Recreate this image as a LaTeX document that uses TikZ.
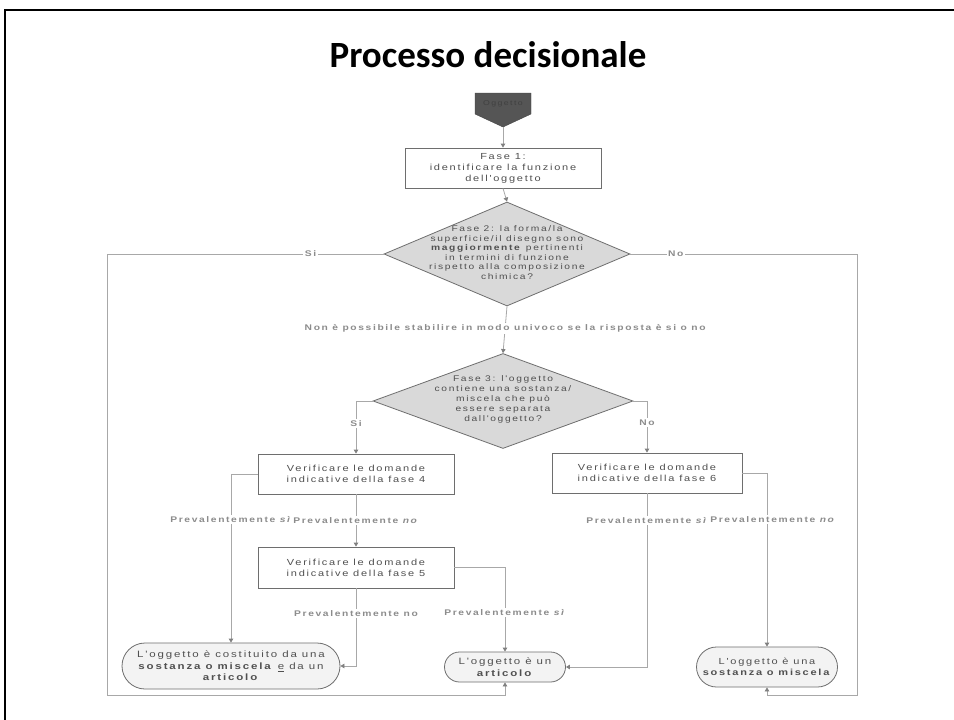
\documentclass[tikz,border=0pt]{standalone}
\usepackage{fontspec}
\usepackage{graphicx}
\setmainfont{Liberation Sans}
\newfontfamily\df[FakeStretch=1.25,LetterSpace=20]{Liberation Sans}
\newfontfamily\ttlfont{Carlito}
\usetikzlibrary{shapes.geometric,shapes.misc,arrows.meta}
\definecolor{conn}{HTML}{A8A8A8}
\definecolor{bordergray}{HTML}{6E6E6E}
\definecolor{txtgray}{HTML}{505050}
\definecolor{lblgray}{HTML}{8C8C8C}
\definecolor{diafill}{HTML}{D9D9D9}
\definecolor{termfill}{HTML}{F3F3F3}
\definecolor{ogfill}{HTML}{555555}
\tikzset{
  boxnode/.style={draw=bordergray, line width=0.8pt, fill=white, rectangle, minimum height=40pt, inner sep=0pt,
    align=center, text=txtgray, font=\df\fontsize{8.8}{11}\selectfont},
  dianode/.style={draw=bordergray, line width=0.8pt, fill=diafill, diamond, inner sep=0pt},
  diatext/.style={align=center, text=txtgray, inner sep=0pt, font=\df\fontsize{8.2}{9.5}\selectfont},
  termnode/.style={draw=bordergray, line width=0.8pt, fill=termfill, rounded rectangle, inner sep=0pt,
    align=center, text=txtgray, font=\df\fontsize{9.2}{11.5}\selectfont},
  lbl/.style={fill=white, inner sep=1.5pt, text=lblgray, font=\df\bfseries\fontsize{8.2}{10}\selectfont},
  conn/.style={draw=conn, line width=0.8pt},
  arr/.style={conn, -{Triangle[width=4.5pt,length=4pt,color=gray,fill=gray]}}
}
\begin{document}
\begin{tikzpicture}[x=1pt,y=-1pt]
\useasboundingbox (0,0) rectangle (954,720);
\fill[white] (0,0) rectangle (954,720);
% slide frame
\draw[line width=2.6pt, black] (5,740) -- (5,10) -- (970,10);
% title
\node[anchor=base, inner sep=0pt] (title) at (488,67)
  {\ttlfont\bfseries\fontsize{37}{40}\selectfont Processo decisionale};

% start symbol
\fill[ogfill, draw=ogfill!80!black] (475,93) -- (531,93) -- (531,114) -- (503,127) -- (475,114) -- cycle;
\node[inner sep=0pt, text=black!75, font=\df\fontsize{7}{8}\selectfont] (og) at (503,104) {Oggetto};
\coordinate (ogtip) at (503,127);

% boxes
\node[boxnode, minimum width=196pt] (f1) at (503,168) {Fase 1:\\identificare la funzione\\dell'oggetto};
\node[dianode, minimum width=246pt, minimum height=104pt] (d2) at (507,254) {};
\node[diatext] (d2t) at (507,252.5) {Fase 2: la forma/la\\superficie/il disegno sono\\\textbf{maggiormente} pertinenti\\in termini di funzione\\rispetto alla composizione\\chimica?};
\node[dianode, minimum width=260pt, minimum height=95pt] (d3) at (503,401) {};
\node[diatext, font=\df\fontsize{8.2}{10}\selectfont] (d3t) at (503,399) {Fase 3: l'oggetto\\contiene una sostanza/\\miscela che può\\essere separata\\dall'oggetto?};
\node[boxnode, minimum width=196pt] (b4) at (356,474) {Verificare le domande\\indicative della fase 4};
\node[boxnode, minimum width=190pt] (b6) at (647,473) {Verificare le domande\\indicative della fase 6};
\node[boxnode, minimum width=196pt, minimum height=41pt] (b5) at (356,567.5) {Verificare le domande\\indicative della fase 5};
\node[termnode, minimum width=218pt, minimum height=46pt] (e1) at (231,666)
  {L'oggetto è costituito da una\\\textbf{sostanza o miscela} \underline{e} da un\\\textbf{articolo}};
\node[termnode, minimum width=121pt, minimum height=30pt] (art) at (505,667)
  {L'oggetto è un\\\textbf{articolo}};
\node[termnode, minimum width=141pt, minimum height=40pt, font=\df\fontsize{8.8}{11.5}\selectfont] (sos) at (767,667)
  {L'oggetto è una\\\textbf{sostanza o miscela}};

% connectors
\draw[arr] (ogtip) -- (f1.north);
\draw[arr] (f1.south) -- (d2.north);
\draw[arr] (d2.south) -- node[lbl, pos=0.47]{Non è possibile stabilire in modo univoco se la risposta è si o no} (d3.north);
\draw[arr] (d2.west) -- node[lbl, pos=0.264]{Si} (107,254) -- (107,695) -- (art.south |- 0,695) -- (art.south);
\draw[arr] (d2.east) -- node[lbl, pos=0.2]{No} (857,254) -- (857,695) -- (sos.south |- 0,695) -- (sos.south);
\draw[arr] (d3.west) -- (b4.north |- d3.west) -- node[lbl, pos=0.42]{Si} (b4.north);
\draw[arr] (d3.east) -- (b6.north |- d3.east) -- node[lbl, pos=0.42]{No} (b6.north);
\draw[arr] (b4.west) -- (e1.north |- b4.west) -- node[lbl, pos=0.27]{Prevalentemente \textit{sì}} (e1.north);
\draw[arr] (b4.south) -- node[lbl]{Prevalentemente \textit{no}} (b5.north);
\draw[arr] (b6.east) -- (sos.north |- b6.east) -- node[lbl, pos=0.27, xshift=6pt]{Prevalentemente \textit{no}} (sos.north);
\draw[arr] (b6.south) -- node[lbl, pos=0.155]{Prevalentemente \textit{sì}} (b6.south |- art.east) -- (art.east);
\draw[arr] (b5.south) -- node[lbl, pos=0.32]{Prevalentemente no} (b5.south |- e1.east) -- (e1.east);
\draw[arr] (b5.east) -- (art.north |- b5.east) -- node[lbl, pos=0.54]{Prevalentemente \textit{sì}} (art.north);
\end{tikzpicture}
\end{document}
